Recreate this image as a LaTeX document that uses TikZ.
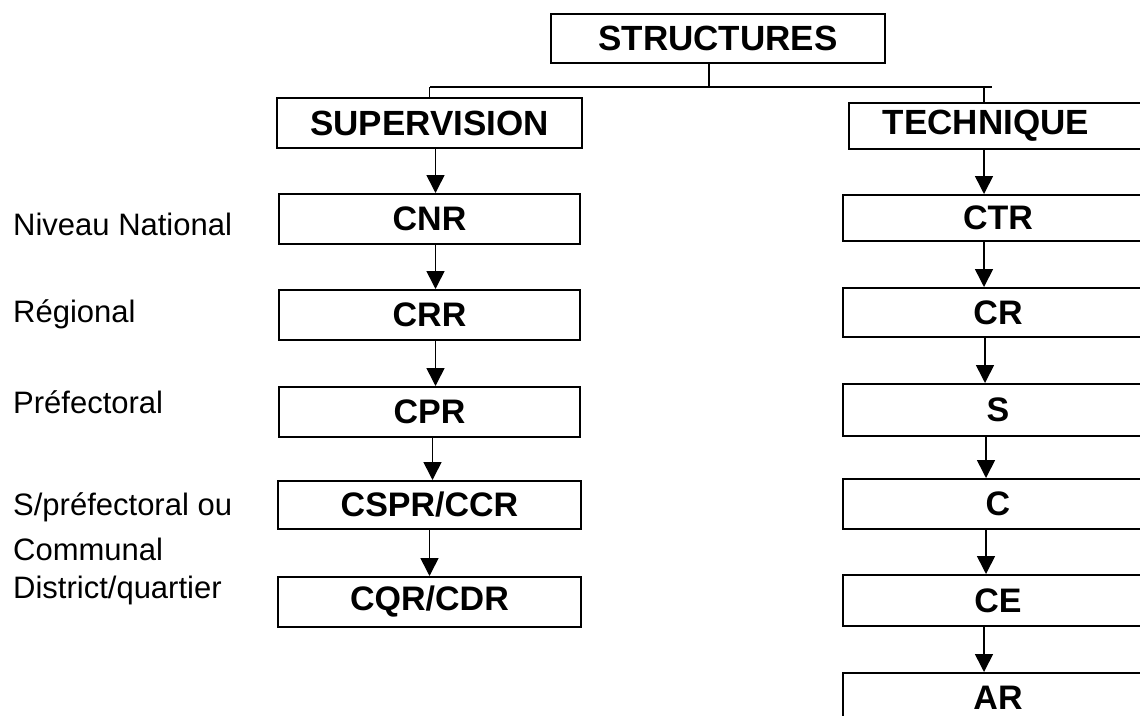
\documentclass[tikz,border=0pt]{standalone}
\usepackage{fontspec}
\setmainfont{Liberation Sans}
\usetikzlibrary{arrows.meta}
\tikzset{
  boxline/.style={draw=black, line width=2pt},
  hdrbox/.style={boxline, minimum height=49pt, inner sep=0pt, font=\fontsize{35}{40}\selectfont\bfseries},
  lvlbox/.style={boxline, minimum height=50pt, inner sep=0pt, font=\fontsize{34}{40}\selectfont\bfseries},
  levellabel/.style={anchor=base west, inner sep=0pt, font=\fontsize{31}{36}\selectfont},
  conn/.style={draw=black, line width=1.6pt},
  arr/.style={conn, -{Triangle[width=18pt,length=18pt]}}
}
\begin{document}
\begin{tikzpicture}[x=1pt,y=-1pt]
\useasboundingbox[fill=white] (0,0) rectangle (1140,715);
\clip (0,0) rectangle (1140,715);
% headers
\node[hdrbox, minimum width=334pt] (str) at (718,38.5) {STRUCTURES};
\node[hdrbox, minimum width=305pt, minimum height=50pt] (sup) at (429.5,123) {SUPERVISION};
\node[hdrbox, minimum width=302pt, minimum height=46pt] (tech) at (1000,126) {TECHNIQUE\hspace*{28pt}};
% left column
\node[lvlbox, minimum width=301pt] (cnr) at (429.5,219) {CNR};
\node[lvlbox, minimum width=301pt] (crr) at (429.5,315) {CRR};
\node[lvlbox, minimum width=301pt] (cpr) at (429.5,412) {CPR};
\node[lvlbox, minimum width=303pt, minimum height=48pt] (cspr) at (429.5,505) {CSPR/CCR};
\node[lvlbox, minimum width=303pt] (cqr) at (429.5,602) {CQR/CDR};
% right column
\node[lvlbox, minimum width=310pt, minimum height=46pt] (ctr) at (998,218) {CTR};
\node[lvlbox, minimum width=310pt, minimum height=49pt] (cr) at (998,312.5) {CR};
\node[lvlbox, minimum width=310pt, minimum height=52pt] (s) at (998,410) {S};
\node[lvlbox, minimum width=310pt] (c) at (998,504) {C};
\node[lvlbox, minimum width=310pt, minimum height=51pt] (ce) at (998,600.5) {CE};
\node[lvlbox, minimum width=310pt] (ar) at (998,698) {AR};
% level labels
\node[levellabel] (l1) at (13,235) {Niveau National};
\node[levellabel] (l2) at (13,322) {Régional};
\node[levellabel] (l3) at (13,413) {Préfectoral};
\node[levellabel] (l4) at (13,515) {S/préfectoral ou};
\node[levellabel] (l5) at (13,560) {Communal};
\node[levellabel] (l6) at (13,598) {District/quartier};
% top connectors
\coordinate (hl) at (430,87);
\coordinate (hr) at (992,87);
\draw[conn] (hl) -- (hr);
\draw[conn] ([xshift=-9pt]str.south) -- ([xshift=-9pt]str.south |- hl);
\draw[conn] (sup.north) -- (sup.north |- hl);
\draw[conn] ([xshift=-16pt]tech.north) -- ([xshift=-16pt]tech.north |- hr);
% left arrows
\draw[arr] ([xshift=6pt]sup.south) -- ([xshift=6pt]cnr.north);
\draw[arr] ([xshift=6pt]cnr.south) -- ([xshift=6pt]crr.north);
\draw[arr] ([xshift=6pt]crr.south) -- ([xshift=6pt]cpr.north);
\draw[arr] ([xshift=3pt]cpr.south) -- ([xshift=3pt]cspr.north);
\draw[arr] ([xshift=0pt]cspr.south) -- ([xshift=0pt]cqr.north);
% right arrows
\draw[arr] ([xshift=-16pt]tech.south) -- ([xshift=-16pt]tech.south |- ctr.north);
\draw[arr] ([xshift=-14pt]ctr.south) -- ([xshift=-14pt]cr.north);
\draw[arr] ([xshift=-13pt]cr.south) -- ([xshift=-13pt]s.north);
\draw[arr] ([xshift=-12pt]s.south) -- ([xshift=-12pt]c.north);
\draw[arr] ([xshift=-12pt]c.south) -- ([xshift=-12pt]ce.north);
\draw[arr] ([xshift=-14pt]ce.south) -- ([xshift=-14pt]ar.north);
\end{tikzpicture}
\end{document}
